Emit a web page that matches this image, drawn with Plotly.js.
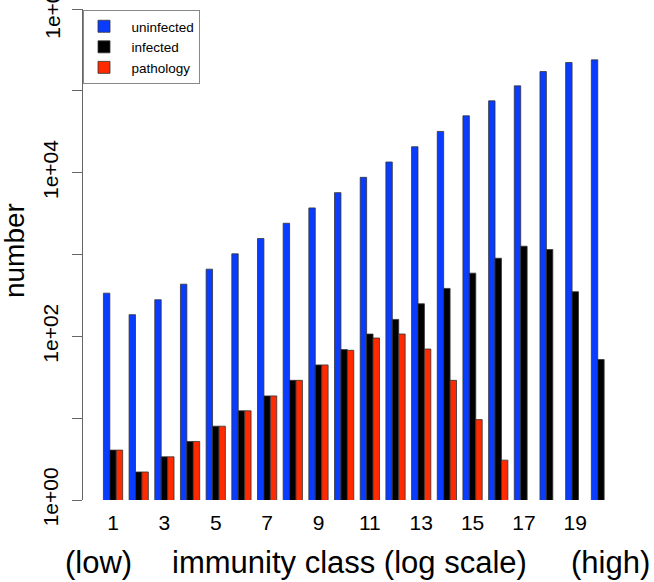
<!DOCTYPE html>
<html>
<head>
<meta charset="utf-8">
<script src="https://cdn.plot.ly/plotly-3.0.1.min.js"></script>
<style>html,body{margin:0;padding:0;background:#fff;}#chart{width:654px;height:582px;}</style>
</head>
<body>
<div id="chart"></div>
<script>
// immunity classes
const classes = [1,2,3,4,5,6,7,8,9,10,11,12,13,14,15,16,17,18,19,20];
const tickClasses = [1,3,5,7,9,11,13,15,17,19];
const uninfected = [337,184,280,434,662,1019,1567,2410,3710,5700,8770,13500,20750,31900,49500,75500,115000,172000,222000,239000];
const infected   = [4.07,2.2,3.37,5.19,7.98,12.3,18.7,29,44.7,68.8,106.6,161,250,385,592,901,1262,1151,351,52];
const pathology  = [4.07,2.2,3.37,5.19,7.98,12.3,18.7,29,44.7,67.5,95.4,106.7,70,29,9.6,3.07,0,0,0,0];
const seriesNames = ['uninfected','infected','pathology'];
const yTickVals = [1,10,100,1000,10000,100000,1000000];
const yTickText = ['1e+00','','1e+02','','1e+04','',''];
const topTickLabel = '1e+06';

const FONT = 'Liberation Sans, Arial, Helvetica, sans-serif';
const outline = {color:'#333', width:0.8};
const pad = '\u00a0\u00a0';

const traces = [
  {type:'bar', name:pad+seriesNames[0], x:classes, y:uninfected, marker:{color:'#0a3cff', line:outline}},
  {type:'bar', name:pad+seriesNames[1], x:classes, y:infected, marker:{color:'#000000', line:outline}},
  {type:'bar', name:pad+seriesNames[2], x:classes, y:pathology, marker:{color:'#ff2a00', line:outline}}
];

const layout = {
  width:654, height:582,
  margin:{l:83, r:23, t:9, b:82, pad:0},
  paper_bgcolor:'#fff', plot_bgcolor:'#fff',
  font:{family:FONT, color:'#000'},
  barmode:'group', bargap:0.25, bargroupgap:0,
  showlegend:true,
  legend:{x:0, y:0.998, xanchor:'left', yanchor:'top', bordercolor:'#888', borderwidth:1,
          bgcolor:'#fff', font:{size:13.5, family:FONT}, tracegroupgap:0},
  xaxis:{type:'linear', range:[-0.17,21.17], tickmode:'array', tickvals:tickClasses,
         ticktext:tickClasses.map(String), showline:false, showgrid:false, zeroline:false,
         ticks:'', tickfont:{size:21, family:FONT}, ticklabelstandoff:8},
  yaxis:{type:'log', range:[0,6], tickmode:'array', tickvals:yTickVals, ticktext:yTickText,
         showline:true, linecolor:'#666', linewidth:1, ticks:'outside', ticklen:10, tickcolor:'#666',
         tickwidth:1, showgrid:false, zeroline:false, tickangle:-90,
         tickfont:{size:21, family:FONT}, ticklabelstandoff:6},
  annotations:[
    {text:topTickLabel, xref:'paper', yref:'y', x:-0.057, y:6, xanchor:'center', yanchor:'middle',
     textangle:-90, showarrow:false, font:{size:21, family:FONT}},
    {text:'number', xref:'paper', yref:'paper', x:-0.126, y:0.509, xanchor:'center', yanchor:'middle',
     textangle:-90, showarrow:false, font:{size:28, family:FONT}},
    {text:'(low)', xref:'paper', yref:'paper', x:0.029, y:-0.128, xanchor:'center', yanchor:'middle',
     showarrow:false, font:{size:31, family:FONT}},
    {text:'immunity class (log scale)', xref:'paper', yref:'paper', x:0.487, y:-0.128, xanchor:'center', yanchor:'middle',
     showarrow:false, font:{size:31, family:FONT}},
    {text:'(high)', xref:'paper', yref:'paper', x:0.9635, y:-0.128, xanchor:'center', yanchor:'middle',
     showarrow:false, font:{size:31, family:FONT}}
  ]
};

Plotly.newPlot('chart', traces, layout, {displayModeBar:false, staticPlot:true});
</script>
</body>
</html>
